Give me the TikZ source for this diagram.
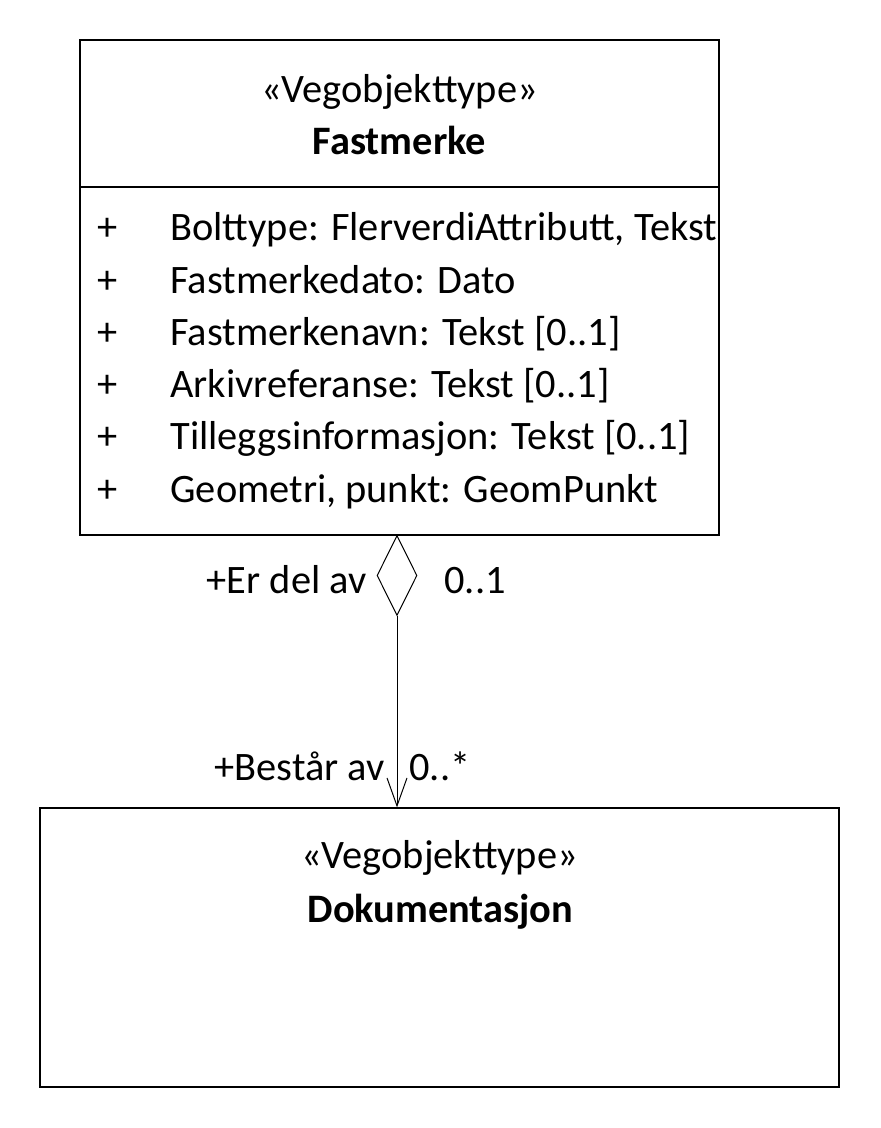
\documentclass[tikz,border=0pt]{standalone}
\usepackage{fontspec}
\setmainfont{Carlito}
\usetikzlibrary{arrows.meta, positioning, shapes.geometric}

\begin{document}
\begin{tikzpicture}[x=0.5pt, y=-0.5pt,
    every node/.style={font=\fontsize{20.2}{24}\selectfont, inner sep=0pt},
    classbox/.style={draw, line width=0.6pt},
    aggr/.style={diamond, draw, line width=0.5pt,
                 minimum width=20pt, minimum height=40pt},
    stereo/.style={anchor=base},
    cname/.style={anchor=base, font=\fontsize{20.2}{24}\selectfont\bfseries}
]
\useasboundingbox (0,0) rectangle (880,1128);

% --- Klasse: Fastmerke ---
\node[classbox, minimum width=319.5pt, minimum height=247.5pt] (fast) at (399.5,287.5) {};
\coordinate (skille) at (0,187);
\draw[line width=0.6pt] (fast.west |- skille) -- (fast.east |- skille);
\node[stereo] (faststereo) at (399.5,103) {«Vegobjekttype»};
\node[cname] (fastnavn) at (399.5,155) {Fastmerke};

% --- Attributter ---
\foreach \t [count=\i from 0] in {{Bolttype: FlerverdiAttributt, Tekst},
    {Fastmerkedato: Dato}, {Fastmerkenavn: Tekst [0..1]},
    {Arkivreferanse: Tekst [0..1]}, {Tilleggsinformasjon: Tekst [0..1]},
    {Geometri, punkt: GeomPunkt}} {
  \node[anchor=base] (pluss\i) at (108,241+52.2*\i) {+};
  \node[anchor=base west] (attr\i) at (170,241+52.2*\i) {\t};
}

% --- Klasse: Dokumentasjon ---
\node[classbox, minimum width=399.5pt, minimum height=139.5pt] (dok) at (439.5,947.5) {};
\node[stereo] (dokstereo) at (439.5,868) {«Vegobjekttype»};
\node[cname] (doknavn) at (440.5,922) {Dokumentasjon};

% --- Aggregering ---
\node[aggr, anchor=north] (agg) at (397,535) {};
\draw[-{Straight Barb[length=14pt, width=10pt]}, line width=0.5pt]
    (agg.south) -- (agg.south |- dok.north);

\node[anchor=base east] (erdel) at (367,593) {+Er del av};
\node[anchor=base west] (mult1) at (444,593) {0..1};
\node[anchor=base east] (bestar) at (385,780) {+Består av};
\node[anchor=base west] (mult2) at (409,780) {0..*};
\end{tikzpicture}
\end{document}
